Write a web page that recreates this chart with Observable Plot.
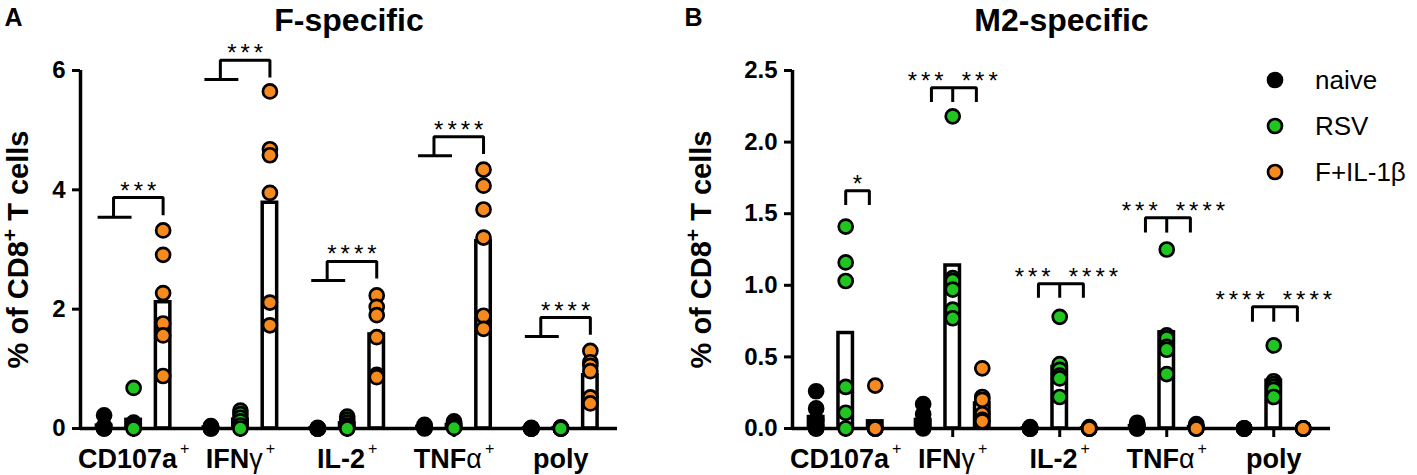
<!DOCTYPE html>
<html>
<head>
<meta charset="utf-8">
<script src="https://cdn.jsdelivr.net/npm/d3@7"></script>
<script src="https://cdn.jsdelivr.net/npm/@observablehq/plot@0.6"></script>
<style>
  html, body { margin: 0; padding: 0; background: #fff; }
  #fig { position: relative; width: 1417px; height: 475px; display: flex; font-family: "Liberation Sans", Arial, sans-serif; }
  #fig svg { overflow: visible; }
  g[aria-label="y-axis tick"], g[aria-label="x-axis tick"] { stroke-width: 3px; }
  #legend { position: absolute; left: 0; top: 0; }
  .lrow { position: absolute; height: 46px; display: flex; align-items: center; font-size: 26px; color: #000; white-space: nowrap; }
</style>
</head>
<body>
<div id="fig"><div id="legend"></div></div>
<script>
// ---------- data ----------
const categories = ["CD107a", "IFNγ", "IL-2", "TNFα", "poly"];
const tickLabels = ["CD107a+", "IFNγ+", "IL-2+", "TNFα+", "poly"];
const groups = ["naive", "RSV", "F+IL-1β"];
const groupColors = ["#000000", "#21c521", "#f68a1e"];
const yLabel = "% of CD8+ T cells";

// Panel A: F-specific (one array of mice per category)
const fNaive = [
  [0.22, 0.04, 0.02, 0.01, 0, 0],
  [0.04, 0.03, 0.02, 0.01, 0, 0],
  [0.01, 0, 0, 0, 0, 0],
  [0.06, 0.04, 0.03, 0.02, 0.01, 0],
  [0.01, 0, 0, 0, 0, 0]
];
const fRSV = [
  [0.68, 0.10, 0.06, 0.02, 0.01, 0],
  [0.30, 0.24, 0.18, 0.12, 0.05, 0],
  [0.20, 0.15, 0.10, 0.05, 0.02, 0],
  [0.12, 0.10, 0.06, 0.04, 0.02, 0.01],
  [0.02, 0.01, 0, 0, 0, 0]
];
const fFIL = [
  [3.32, 2.91, 2.27, 1.76, 1.56, 0.88],
  [5.65, 4.68, 4.58, 3.95, 2.11, 1.73],
  [2.23, 2.04, 1.90, 1.53, 0.90, 0.86],
  [4.34, 4.07, 3.67, 3.20, 1.89, 1.67],
  [1.30, 1.11, 1.05, 0.96, 0.52, 0.42]
];
// Panel B: M2-specific
const mNaive = [
  [0.26, 0.14, 0.06, 0.02, 0, 0],
  [0.17, 0.10, 0.05, 0.03, 0.01, 0],
  [0.01, 0, 0, 0, 0, 0],
  [0.04, 0.03, 0.02, 0.01, 0, 0],
  [0, 0, 0, 0, 0, 0]
];
const mRSV = [
  [1.41, 1.16, 1.03, 0.29, 0.11, 0],
  [2.18, 1.05, 1.03, 0.97, 0.83, 0.77],
  [0.78, 0.45, 0.41, 0.37, 0.35, 0.22],
  [1.25, 0.65, 0.63, 0.57, 0.55, 0.38],
  [0.58, 0.33, 0.31, 0.29, 0.27, 0.22]
];
const mFIL = [
  [0.30, 0, 0, 0, 0, 0],
  [0.42, 0.22, 0.20, 0.10, 0.06, 0.05],
  [0.01, 0, 0, 0, 0, 0],
  [0.03, 0.02, 0.01, 0, 0, 0],
  [0, 0, 0, 0, 0, 0]
];

const yTicksA = [0, 2, 4, 6];
const yTicksB = [0, 0.5, 1.0, 1.5, 2.0, 2.5];

// significance brackets (y levels in data units)
const bracketsA = [
  { cat: "CD107a", low: 3.54, high: 3.87, stars: "***" },
  { cat: "IFNγ", low: 5.85, high: 6.17, stars: "***" },
  { cat: "IL-2", low: 2.48, high: 2.80, stars: "****" },
  { cat: "TNFα", low: 4.57, high: 4.89, stars: "****" },
  { cat: "poly", low: 1.54, high: 1.86, stars: "****" }
];
const bracketsB = [
  { cat: "CD107a", low: 1.56, high: 1.66, left: null, right: "*" },
  { cat: "IFNγ", low: 2.28, high: 2.38, left: "***", right: "***" },
  { cat: "IL-2", low: 0.913, high: 1.011, left: "***", right: "****" },
  { cat: "TNFα", low: 1.368, high: 1.472, left: "***", right: "****" },
  { cat: "poly", low: 0.746, high: 0.850, left: "****", right: "****" }
];

// ---------- layout helpers ----------
const G = 3.62;               // group spacing in slot units
const xDomain = [-0.8, 17.4];
const LS = 4;                 // letter spacing of asterisks (px)
const ci = c => categories.indexOf(c);

function buildRows(series) {
  const rows = [];
  series.forEach((ser, si) => ser.forEach((vals, c) => vals.forEach(v =>
    rows.push({ cat: categories[c], group: groups[si], value: v, pos: c * G + si }))));
  return rows;
}
function buildMeans(series) {
  const out = [];
  series.forEach((ser, si) => ser.forEach((vals, c) =>
    out.push({ cat: categories[c], group: groups[si], mean: d3.mean(vals), pos: c * G + si })));
  return out;
}
function bracketGeomA(br) {
  const pts = [], stars = [];
  br.forEach((b, k) => {
    const c0 = ci(b.cat) * G;
    const tip = b.low + (b.high - b.low) * 0.1;
    [[c0 - 0.22, b.low], [c0 + 0.93, b.low]].forEach(([x, y]) => pts.push({ id: k + "a", x, y }));
    [[c0 + 0.32, b.low], [c0 + 0.32, b.high], [c0 + 2, b.high], [c0 + 2, tip]].forEach(([x, y]) => pts.push({ id: k + "b", x, y }));
    stars.push({ x: c0 + 1.16, y: b.high, text: b.stars, anchor: "middle" });
  });
  return { pts, stars };
}
function bracketGeomB(br) {
  const pts = [], stars = [];
  br.forEach((b, k) => {
    const c0 = ci(b.cat) * G;
    if (b.left) {
      [[c0 + 0.28, b.low], [c0 + 0.28, b.high], [c0 + 1.8, b.high], [c0 + 1.8, b.low]].forEach(([x, y]) => pts.push({ id: k + "a", x, y }));
      [[c0 + 1, b.high], [c0 + 1, b.low]].forEach(([x, y]) => pts.push({ id: k + "b", x, y }));
      stars.push({ x: c0 + 1, y: b.high, text: b.left, anchor: "end" });
      stars.push({ x: c0 + 1, y: b.high, text: b.right, anchor: "start" });
    } else {
      [[c0 + 1, b.low], [c0 + 1, b.high], [c0 + 1.8, b.high], [c0 + 1.8, b.low]].forEach(([x, y]) => pts.push({ id: k + "a", x, y }));
      stars.push({ x: c0 + 1.4, y: b.high, text: b.right, anchor: "middle" });
    }
  });
  return { pts, stars };
}

function panel({ series, yMax, yTicks, yFormat, title, letter, brackets, width, marginLeft, marginRight, labelDx }) {
  const rows = buildRows(series);
  const means = buildMeans(series);
  const centers = categories.map((c, i) => i * G + 1);
  const stars = brackets.stars;
  const font = "Liberation Sans, Arial, sans-serif";
  const starOpts = { x: "x", y: "y", text: "text", lineAnchor: "bottom", dy: 1, fontSize: 24, fontWeight: "normal" };
  return Plot.plot({
    width, height: 475,
    marginLeft, marginRight, marginTop: 70, marginBottom: 47,
    style: { fontFamily: font, background: "white", color: "black", overflow: "visible" },
    x: { type: "linear", domain: xDomain },
    y: { domain: [0, yMax] },
    color: { domain: groups, range: groupColors },
    marks: [
      Plot.rect(means, { x1: d => d.pos - 0.245, x2: d => d.pos + 0.245, y1: 0, y2: "mean", fill: "white", stroke: "black", strokeWidth: 3.5 }),
      Plot.ruleY([0], { stroke: "black", strokeWidth: 3.5 }),
      Plot.ruleX([xDomain[0]], { y1: 0, y2: yMax, stroke: "black", strokeWidth: 3.5 }),
      Plot.axisY({ ticks: yTicks, tickFormat: yFormat, tickSize: 8, tickPadding: 7, fontSize: 24, fontWeight: "bold", strokeWidth: 3, label: null }),
      Plot.axisX({ ticks: centers, tickFormat: d => tickLabels[Math.round((d - 1) / G)], tickSize: 9, tickPadding: 11, fontSize: 27, fontWeight: "bold", strokeWidth: 3, label: null }),
      Plot.dot(rows, { x: "pos", y: "value", r: 7, fill: "group", stroke: "black", strokeWidth: 2.7 }),
      Plot.line(brackets.pts, { x: "x", y: "y", z: "id", stroke: "black", strokeWidth: 3, strokeLinecap: "butt", strokeLinejoin: "miter", curve: "linear" }),
      Plot.text(stars.filter(s => s.anchor === "middle"), { ...starOpts, textAnchor: "middle", dx: LS / 2 }),
      Plot.text(stars.filter(s => s.anchor === "end"), { ...starOpts, textAnchor: "end", dx: -9 + LS }),
      Plot.text(stars.filter(s => s.anchor === "start"), { ...starOpts, textAnchor: "start", dx: 9 }),
      Plot.text([title], { frameAnchor: "top", lineAnchor: "bottom", dy: -40, fontSize: 32, fontWeight: "bold" }),
      Plot.text([letter], { frameAnchor: "top-left", textAnchor: "start", lineAnchor: "bottom", dx: -(marginLeft - 4), dy: -45, fontSize: 25, fontWeight: "bold" }),
      Plot.text([yLabel], { frameAnchor: "left", rotate: -90, textAnchor: "middle", lineAnchor: "middle", dx: labelDx, fontSize: 29, fontWeight: "bold" })
    ]
  });
}

// ---------- text decoration (superscripts, Greek) ----------
function appendRuns(sel, str) {
  const runs = str.match(/[α-ωΑ-Ω]+|[^α-ωΑ-Ω]+/g) || [];
  runs.forEach(r => {
    const t = sel.append("tspan").text(r);
    if (/[α-ωΑ-Ω]/.test(r)) t.attr("font-weight", "normal");
  });
}
function decorate(svg) {
  const s = d3.select(svg);
  s.selectAll('g[aria-label="x-axis tick label"] text').each(function () {
    const label = this.textContent;
    const t = d3.select(this);
    t.text(null);
    const sup = label.endsWith("+");
    appendRuns(t, sup ? label.slice(0, -1) : label);
    if (sup) t.append("tspan").attr("dx", 3).attr("dy", -14).attr("font-size", 16).attr("font-weight", "normal").text("+");
  });
  s.selectAll("text").filter(function () { return /^\*+$/.test(this.textContent); })
    .style("letter-spacing", LS + "px");
  s.selectAll("text").filter(function () { return this.textContent === yLabel; }).each(function () {
    const t = d3.select(this);
    t.text(null);
    t.append("tspan").text("% of CD8");
    t.append("tspan").attr("dy", -11).attr("font-size", 21).text("+");
    t.append("tspan").attr("dy", 11).text(" T cells");
  });
}

const fig = document.getElementById("fig");
const svgA = panel({
  series: [fNaive, fRSV, fFIL], yMax: 6, yTicks: yTicksA, yFormat: d3.format("d"),
  title: "F-specific", letter: "A", brackets: bracketGeomA(bracketsA),
  width: 680, marginLeft: 80, marginRight: 63, labelDx: -62
});
const svgB = panel({
  series: [mNaive, mRSV, mFIL], yMax: 2.5, yTicks: yTicksB, yFormat: d3.format(".1f"),
  title: "M2-specific", letter: "B", brackets: bracketGeomB(bracketsB),
  width: 737, marginLeft: 112, marginRight: 87, labelDx: -91
});
decorate(svgA); decorate(svgB);
fig.insertBefore(svgA, fig.firstChild);
fig.insertBefore(svgB, document.getElementById("legend"));

// ---------- legend ----------
const legend = d3.select("#legend");
groups.forEach((g, i) => {
  const row = legend.append("div").attr("class", "lrow")
    .style("left", "1262px").style("top", (80 + i * 46 - 23) + "px");
  const sv = row.append("svg").attr("width", 26).attr("height", 26).style("overflow", "visible");
  sv.append("circle").attr("cx", 13).attr("cy", 13).attr("r", 7)
    .attr("fill", groupColors[i]).attr("stroke", "black").attr("stroke-width", 2.7);
  row.append("span").style("margin-left", "27px").text(g);
});
</script>
</body>
</html>
